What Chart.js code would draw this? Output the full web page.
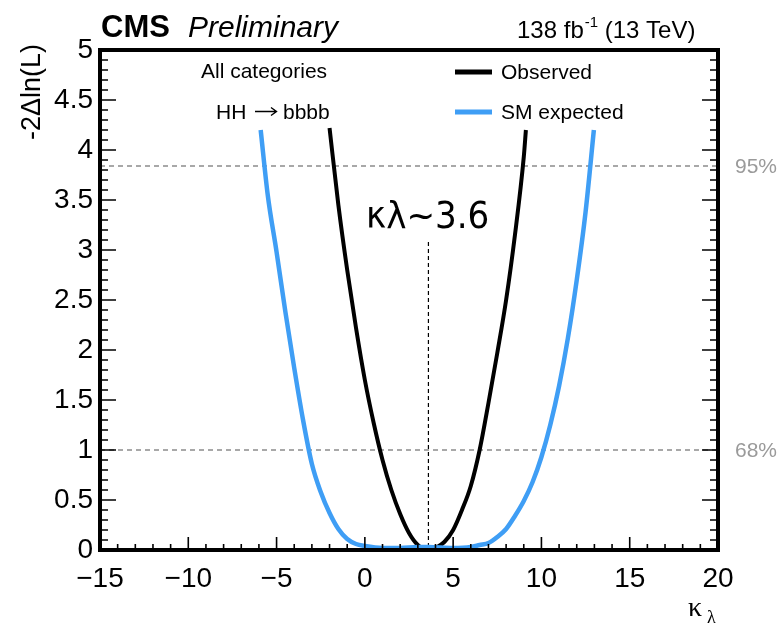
<!DOCTYPE html>
<html>
<head>
<meta charset="utf-8">
<script src="https://cdn.jsdelivr.net/npm/chart.js@4.4.1/dist/chart.umd.min.js"></script>
<style>
  html, body { margin: 0; padding: 0; background: #ffffff; }
  #wrap { width: 782px; height: 628px; }
</style>
</head>
<body>
<div id="wrap"><canvas id="c" width="782" height="628"></canvas></div>
<script>
// Likelihood scan of kappa_lambda, HH -> bbbb, all categories
const observedKl = [-2.0, -1.5, -1.0, -0.5, 0.0, 0.5, 1.0, 1.5, 2.0, 2.5, 3.0, 3.6, 4.0, 4.5, 5.0, 5.5, 6.0, 6.5, 7.0, 7.5, 8.0, 8.5, 9.0, 9.12];
const observedNll = [4.22, 3.45, 2.8, 2.22, 1.7, 1.27, 0.9, 0.6, 0.36, 0.17, 0.05, 0.0, 0.02, 0.08, 0.2, 0.4, 0.64, 1.0, 1.47, 1.97, 2.5, 3.15, 3.93, 4.2];

const expectedKl = [-5.9, -5.5, -5.0, -4.5, -4.0, -3.5, -3.0, -2.5, -2.0, -1.5, -1.0, -0.5, 0.0, 1.0, 2.0, 3.0, 3.6, 5.0, 6.0, 6.5, 7.0, 7.5, 8.0, 8.5, 9.0, 9.5, 10.0, 10.5, 11.0, 11.5, 12.0, 12.5, 12.97];
const expectedNll = [4.2, 3.55, 2.98, 2.38, 1.82, 1.3, 0.86, 0.58, 0.37, 0.21, 0.11, 0.06, 0.04, 0.02, 0.02, 0.03, 0.03, 0.02, 0.03, 0.05, 0.07, 0.13, 0.21, 0.34, 0.49, 0.68, 0.93, 1.25, 1.64, 2.12, 2.7, 3.38, 4.2];

// Confidence-level thresholds and best-fit value
const clLevels = [1.0, 3.84];
const clLabels = ['68%', '95%'];
const bestFit = 3.6;

const xTicks = [-15, -10, -5, 0, 5, 10, 15, 20];
const yTicks = [0, 0.5, 1, 1.5, 2, 2.5, 3, 3.5, 4, 4.5, 5];

const SANS = '"Liberation Sans", Arial, Helvetica, sans-serif';
const BLUE = '#3f9ef5';

function toPoints(xs, ys) { return xs.map((x, i) => ({ x: x, y: ys[i] })); }

const decorations = {
  id: 'decorations',
  beforeDatasetsDraw(chart) {
    const { ctx, chartArea: a, scales: { x, y } } = chart;
    ctx.save();
    // CL threshold lines
    ctx.strokeStyle = '#8c8c8c';
    ctx.lineWidth = 1.5;
    ctx.setLineDash([5, 4]);
    clLevels.forEach(v => {
      const py = y.getPixelForValue(v);
      ctx.beginPath(); ctx.moveTo(a.left, py); ctx.lineTo(a.right, py); ctx.stroke();
    });
    // best-fit marker
    ctx.strokeStyle = '#000';
    ctx.lineWidth = 1.2;
    ctx.setLineDash([4, 3]);
    const bx = x.getPixelForValue(bestFit);
    ctx.beginPath(); ctx.moveTo(bx, 242); ctx.lineTo(bx, y.getPixelForValue(0)); ctx.stroke();
    ctx.restore();
  },
  afterDraw(chart) {
    const { ctx, chartArea: a, scales: { x, y } } = chart;
    ctx.save();
    // inner ticks
    ctx.strokeStyle = '#000';
    ctx.lineWidth = 1.6;
    ctx.beginPath();
    for (let v = -15; v <= 20; v += 1) {
      const px = x.getPixelForValue(v);
      const len = (v % 5 === 0) ? 13 : 6;
      ctx.moveTo(px, a.bottom); ctx.lineTo(px, a.bottom - len);
    }
    for (let k = 0; k <= 50; k++) {
      const py = y.getPixelForValue(k / 10);
      const len = (k % 5 === 0) ? 16 : 8;
      ctx.moveTo(a.left, py); ctx.lineTo(a.left + len, py);
      ctx.moveTo(a.right, py); ctx.lineTo(a.right - len, py);
    }
    ctx.stroke();
    // frame
    ctx.lineWidth = 4;
    ctx.strokeRect(a.left, a.top, a.right - a.left, a.bottom - a.top);

    // header
    ctx.fillStyle = '#000';
    ctx.textBaseline = 'alphabetic';
    ctx.textAlign = 'left';
    ctx.font = 'bold 31px ' + SANS;
    ctx.fillText('CMS', 101, 37);
    ctx.font = 'italic 30px ' + SANS;
    ctx.fillText('Preliminary', 188, 37);
    ctx.font = '24px ' + SANS;
    let tx = 517;
    ctx.fillText('138 fb', tx, 38);
    tx += ctx.measureText('138 fb').width;
    ctx.font = '15px ' + SANS;
    ctx.fillText('-1', tx + 1, 27);
    tx += ctx.measureText('-1').width + 1;
    ctx.font = '24px ' + SANS;
    ctx.fillText(' (13 TeV)', tx, 38);

    // category text
    ctx.font = '21px ' + SANS;
    ctx.fillText('All categories', 201, 78);
    ctx.fillText('HH', 216, 119);
    ctx.fillText('bbbb', 283, 119);
    // arrow between HH and bbbb
    ctx.lineWidth = 1.4;
    ctx.strokeStyle = '#000';
    ctx.beginPath();
    ctx.moveTo(255, 111.5); ctx.lineTo(276, 111.5);
    ctx.moveTo(271, 107.5); ctx.lineTo(276.5, 111.5); ctx.lineTo(271, 115.5);
    ctx.stroke();

    // legend
    ctx.lineWidth = 5;
    ctx.strokeStyle = '#000';
    ctx.beginPath(); ctx.moveTo(455, 72); ctx.lineTo(492, 72); ctx.stroke();
    ctx.strokeStyle = BLUE;
    ctx.beginPath(); ctx.moveTo(455, 112); ctx.lineTo(492, 112); ctx.stroke();
    ctx.fillText('Observed', 501, 79);
    ctx.fillText('SM expected', 501, 119);

    // CL labels on the right
    ctx.fillStyle = '#9a9a9a';
    ctx.font = '21px ' + SANS;
    ctx.textBaseline = 'middle';
    clLevels.forEach((v, i) => ctx.fillText(clLabels[i], 735, y.getPixelForValue(v) + 1));

    // best-fit annotation
    ctx.fillStyle = '#000';
    ctx.textBaseline = 'alphabetic';
    ctx.font = '38px "DejaVu Sans Condensed", "DejaVu Sans", sans-serif';
    ctx.fillText('\u03ba\u03bb~3.6', 366, 228);

    // axis titles
    ctx.font = '27px ' + SANS;
    ctx.save();
    ctx.translate(40, a.top - 6);
    ctx.rotate(-Math.PI / 2);
    ctx.textAlign = 'right';
    ctx.fillText('-2\u0394ln(L)', 0, 0);
    ctx.restore();

    ctx.font = '28px "Liberation Serif", "DejaVu Serif", serif';
    ctx.fillText('\u03ba', 688, 616);
    ctx.font = '18px "Liberation Serif", "DejaVu Serif", serif';
    ctx.fillText('\u03bb', 707, 623);
    ctx.restore();
  }
};

new Chart(document.getElementById('c'), {
  type: 'scatter',
  data: {
    datasets: [
      {
        label: 'SM expected',
        data: toPoints(expectedKl, expectedNll),
        showLine: true,
        borderColor: BLUE,
        borderWidth: 4.5,
        pointRadius: 0,
        cubicInterpolationMode: 'monotone',
        order: 1
      },
      {
        label: 'Observed',
        data: toPoints(observedKl, observedNll),
        showLine: true,
        borderColor: '#000',
        borderWidth: 4,
        pointRadius: 0,
        cubicInterpolationMode: 'monotone',
        order: 2
      }
    ]
  },
  options: {
    responsive: false,
    animation: false,
    layout: { padding: { top: 50, right: 64, left: 0, bottom: 0 } },
    plugins: { legend: { display: false }, tooltip: { enabled: false } },
    scales: {
      x: {
        type: 'linear', min: -15, max: 20,
        afterBuildTicks(scale) { scale.ticks = xTicks.map(v => ({ value: v })); },
        afterFit(scale) { scale.height = 78; },
        grid: { display: false, drawTicks: false },
        border: { display: false },
        ticks: {
          padding: 12, maxRotation: 0, autoSkip: false, color: '#000',
          font: { family: SANS, size: 28 },
          callback: v => v < 0 ? '\u2212' + Math.abs(v) : String(v)
        }
      },
      y: {
        type: 'linear', min: 0, max: 5,
        afterBuildTicks(scale) { scale.ticks = yTicks.map(v => ({ value: v })); },
        afterFit(scale) { scale.width = 100; },
        grid: { display: false, drawTicks: false },
        border: { display: false },
        ticks: {
          padding: 7, autoSkip: false, color: '#000',
          font: { family: SANS, size: 28 },
          callback: v => String(v)
        }
      }
    }
  },
  plugins: [decorations]
});
</script>
</body>
</html>
